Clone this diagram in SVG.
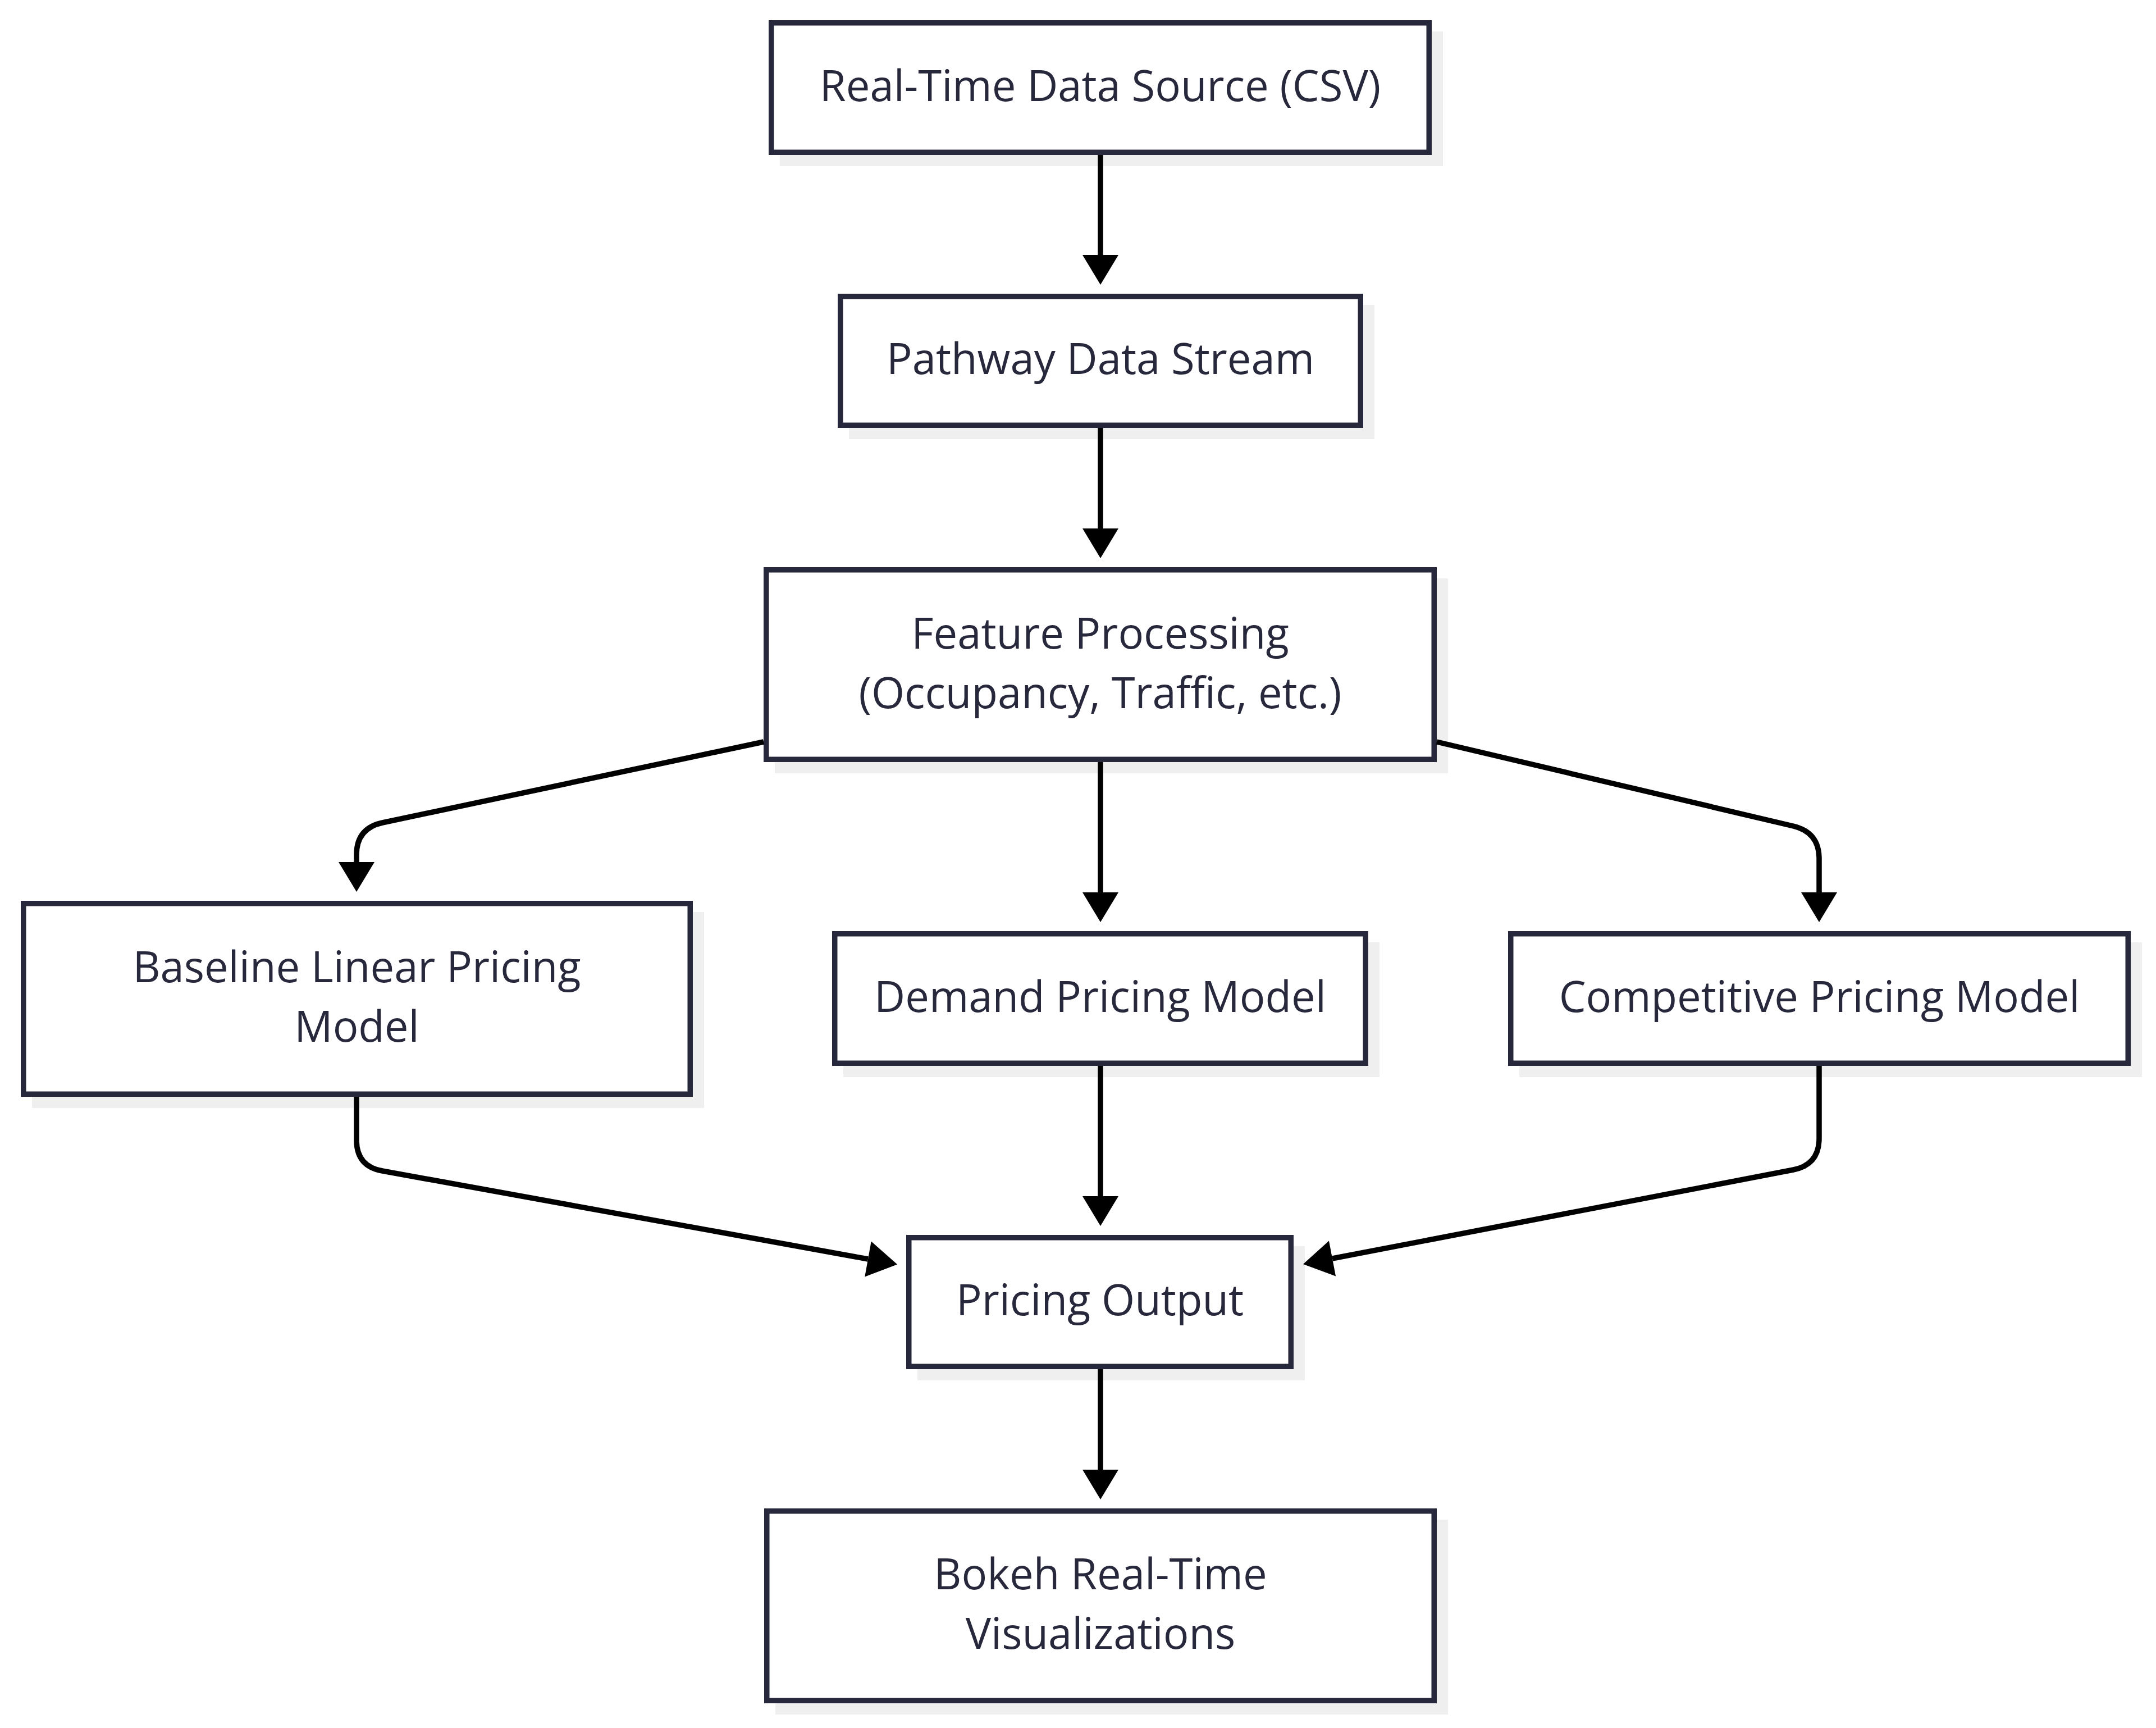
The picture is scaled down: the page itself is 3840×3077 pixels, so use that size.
<svg xmlns="http://www.w3.org/2000/svg" width="3840" height="3077" viewBox="0 0 3840 3077">
<style>
.shadow{fill:#efefef;stroke:none}
.box{fill:#ffffff;stroke:#28283d;stroke-width:9.5}
.lbl{font-family:"Open Sans","Noto Sans","Liberation Sans",sans-serif;font-size:76px;fill:#28283d;text-anchor:middle}
.edge{fill:none;stroke:#000000;stroke-width:9.5;stroke-linejoin:round}
</style>
<defs>
<marker id="arrow" markerUnits="userSpaceOnUse" markerWidth="54" markerHeight="64" refX="0" refY="32" orient="auto" overflow="visible">
<path d="M0,0 L53,32 L0,64 z" fill="#000000"/>
</marker>
</defs>
<rect width="3840" height="3077" fill="#ffffff"/>

<g id="n1">
<rect class="shadow" x="1389" y="56" width="1181" height="240"/>
<rect class="box" x="1373.75" y="40.75" width="1171.5" height="230.5"/>
<text class="lbl" x="1959.5" y="180">Real-Time Data Source (CSV)</text>
</g>
<g id="n2">
<rect class="shadow" x="1512" y="543" width="936" height="239"/>
<rect class="box" x="1496.75" y="527.75" width="926.5" height="229.5"/>
<text class="lbl" x="1960" y="666">Pathway Data Stream</text>
</g>
<g id="n3">
<rect class="shadow" x="1380" y="1030" width="1199" height="347"/>
<rect class="box" x="1364.75" y="1014.75" width="1189.5" height="337.5"/>
<text class="lbl" x="1959.5" y="1154.5">Feature Processing</text>
<text class="lbl" x="1959.5" y="1260.5">(Occupancy, Traffic, etc.)</text>
</g>
<g id="n4">
<rect class="shadow" x="57" y="1624" width="1197" height="349"/>
<rect class="box" x="41.75" y="1608.75" width="1187.5" height="339.5"/>
<text class="lbl" x="635.5" y="1749">Baseline Linear Pricing</text>
<text class="lbl" x="635.5" y="1855">Model</text>
</g>
<g id="n5">
<rect class="shadow" x="1502" y="1678" width="955" height="240"/>
<rect class="box" x="1486.75" y="1662.75" width="945.5" height="230.5"/>
<text class="lbl" x="1959.5" y="1802">Demand Pricing Model</text>
</g>
<g id="n6">
<rect class="shadow" x="2706" y="1678" width="1109" height="240"/>
<rect class="box" x="2690.75" y="1662.75" width="1099.5" height="230.5"/>
<text class="lbl" x="3240.5" y="1802">Competitive Pricing Model</text>
</g>
<g id="n7">
<rect class="shadow" x="1634" y="2219" width="690" height="239"/>
<rect class="box" x="1618.75" y="2203.75" width="680.5" height="229.5"/>
<text class="lbl" x="1959" y="2342">Pricing Output</text>
</g>
<g id="n8">
<rect class="shadow" x="1381" y="2706" width="1198" height="347"/>
<rect class="box" x="1365.75" y="2690.75" width="1188.5" height="337.5"/>
<text class="lbl" x="1960" y="2830">Bokeh Real-Time</text>
<text class="lbl" x="1960" y="2936">Visualizations</text>
</g>

<g id="connectors">
<path class="edge" d="M1960,276 L1960,454" marker-end="url(#arrow)"/>
<path class="edge" d="M1960,762 L1960,941" marker-end="url(#arrow)"/>
<path class="edge" d="M1960,1357 L1960,1589" marker-end="url(#arrow)"/>
<path class="edge" d="M1360,1321 L681,1465 Q635,1475 635,1522 L635,1535" marker-end="url(#arrow)"/>
<path class="edge" d="M2559,1321 L3194,1471 Q3240,1482 3240,1529 L3240,1589" marker-end="url(#arrow)"/>
<path class="edge" d="M1960,1898 L1960,2130" marker-end="url(#arrow)"/>
<path class="edge" d="M635,1953 L635,2030 Q635,2077 681,2085 L1546,2242" marker-end="url(#arrow)"/>
<path class="edge" d="M3240,1898 L3240,2027 Q3240,2074 3194,2083 L2373,2241" marker-end="url(#arrow)"/>
<path class="edge" d="M1960,2438 L1960,2617" marker-end="url(#arrow)"/>
</g>
</svg>
